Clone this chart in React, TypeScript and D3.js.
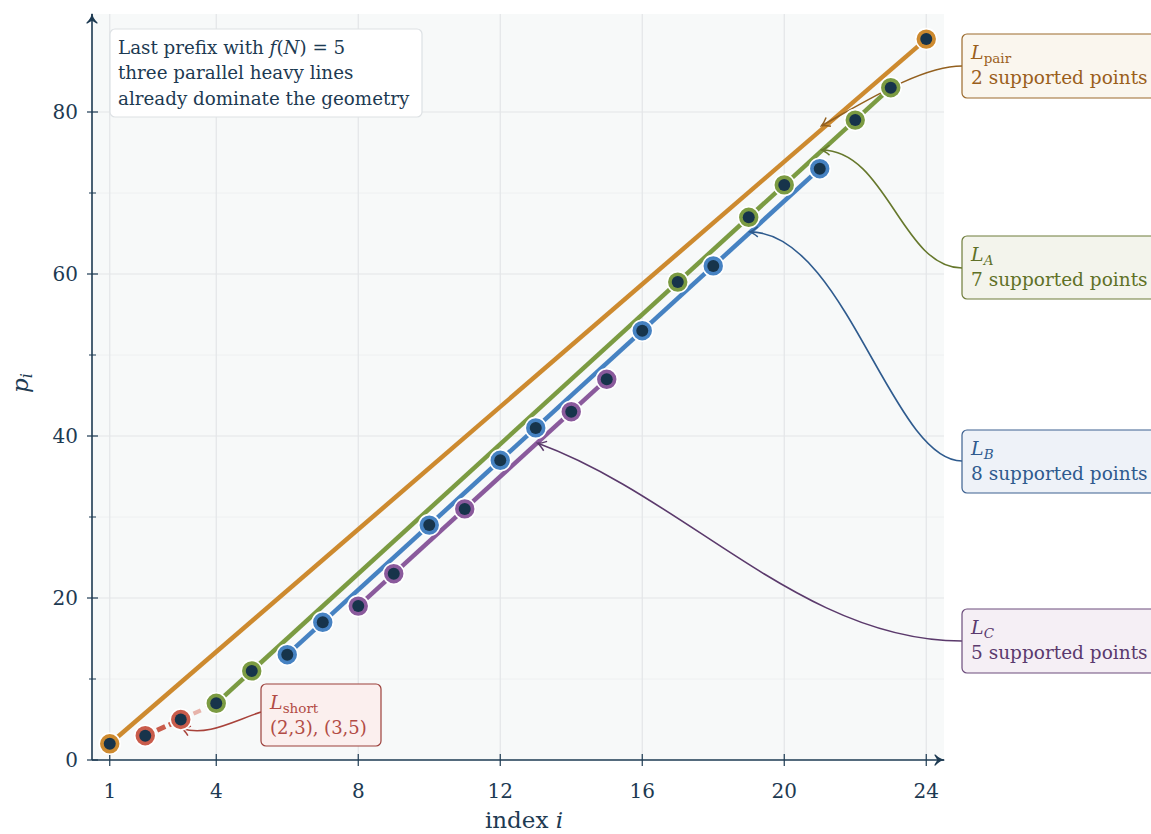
import * as d3 from "d3";

// p_i values, grouped by the line they sit on
const pairIdx = [1, 24];
const pairVal = [2, 89];
const aIdx = [4, 5, 17, 19, 20, 22, 23];
const aVal = [7, 11, 59, 67, 71, 79, 83];
const bIdx = [6, 7, 10, 12, 13, 16, 18, 21];
const bVal = [13, 17, 29, 37, 41, 53, 61, 73];
const cIdx = [8, 9, 11, 14, 15];
const cVal = [19, 23, 31, 43, 47];
const shortIdx = [2, 3];
const shortVal = [3, 5];

const xTicks = [1, 4, 8, 12, 16, 20, 24];
const yTicks = [0, 20, 40, 60, 80];
const yMinor = [10, 30, 50, 70];

// where each callout arrow lands (data coords)
const annI = [21.05, 21.05, 19.03, 13.06, 3.03];
const annP = [78.3, 75.3, 65.2, 39.1, 3.9];

const W = 1151;
const H = 834;
const FONT = "'DejaVu Serif', 'Liberation Serif', serif";
const INK = "#1d3a52";

const x = d3.scaleLinear().domain([0.5, 24.5]).range([92, 944]);
const y = d3.scaleLinear().domain([0, 92]).range([760, 14.8]);

const C = {
  pair: "#cd8a2f",
  a: "#7b9b42",
  b: "#4682c2",
  c: "#8a5a9c",
  short: "#c95c4b",
  dot: "#17344b",
};

function pts(idx: number[], val: number[]) {
  return idx.map((d, i) => [d, val[i]] as [number, number]);
}

const line = d3
  .line<[number, number]>()
  .x((d) => x(d[0]))
  .y((d) => y(d[1]));

function ends(idx: number[], val: number[]): [number, number][] {
  return [
    [idx[0], val[0]],
    [idx[idx.length - 1], val[val.length - 1]],
  ];
}

function curve(bx: number, by: number, tx: number, ty: number, c1: number, c2x: number, c2y: number, c1y = 0) {
  const p = d3.path();
  p.moveTo(bx, by);
  p.bezierCurveTo(bx - c1, by + c1y, tx + c2x, ty + c2y, tx, ty);
  return p.toString();
}

function Box(props: {
  x: number;
  y: number;
  w: number;
  h: number;
  fill: string;
  stroke: string;
  color: string;
  sub: string;
  subItalic: boolean;
  line2: string;
  size?: number;
}) {
  const { x: bx, y: by, w, h, fill, stroke, color, sub, subItalic, line2, size = 18.5 } = props;
  return (
    <g>
      <rect x={bx} y={by} width={w} height={h} rx={5} fill={fill} stroke={stroke} strokeWidth={1.2} />
      <text x={bx + 9} y={by + 25} fill={color} fontSize={19} fontFamily={FONT}>
        <tspan fontStyle="italic">L</tspan>
        <tspan fontSize={13.5} dy={4} fontStyle={subItalic ? "italic" : "normal"}>
          {sub}
        </tspan>
      </text>
      <text x={bx + 9} y={by + 50} fill={color} fontSize={size} fontFamily={FONT}>
        {line2}
      </text>
    </g>
  );
}

function Dots({ idx, val, color }: { idx: number[]; val: number[]; color: string }) {
  return (
    <g>
      {pts(idx, val).map((d, i) => (
        <g key={i}>
          <circle cx={x(d[0])} cy={y(d[1])} r={10.5} fill={color} stroke="#ffffff" strokeWidth={1.6} />
          <circle cx={x(d[0])} cy={y(d[1])} r={6} fill={C.dot} />
        </g>
      ))}
    </g>
  );
}

export default function App() {
  const x0 = x.range()[0];
  const x1 = x.range()[1];
  const yb = y(0);
  const yt = 14;

  const arrows = [
    { c: "#93601f", d: curve(962, 66, x(annI[0]), y(annP[0]), 40, 45, -25) },
    { c: "#66782c", d: curve(962, 268, x(annI[1]), y(annP[1]), 60, 65, 0) },
    { c: "#2f5b8e", d: curve(962, 461, x(annI[2]), y(annP[2]), 70, 95, 0) },
    { c: "#5b3a6c", d: curve(962, 641, x(annI[3]), y(annP[3]), 160, 150, 55) },
    { c: "#a8423a", d: curve(261, 712, x(annI[4]), y(annP[4]), 30, 25, 8, 10) },
  ];

  return (
    <div style={{ position: "absolute", left: 0, top: 0 }}>
      <svg width={W} height={H} style={{ display: "block" }}>
        <defs>
          {arrows.map((a, i) => (
            <marker
              key={i}
              id={`ah${i}`}
              viewBox="-10 -6 12 12"
              markerWidth={12}
              markerHeight={12}
              refX={0}
              refY={0}
              orient="auto"
              markerUnits="userSpaceOnUse"
            >
              <path d="M -8 -5 Q -3 -1 0 0 Q -3 1 -8 5" fill="none" stroke={a.c} strokeWidth={1.5} />
            </marker>
          ))}
          <marker id="axis" viewBox="-10 -6 12 12" markerWidth={12} markerHeight={12} refX={0} refY={0} orient="auto" markerUnits="userSpaceOnUse">
            <path d="M -9 -5 Q -4 0 0 0 Q -4 0 -9 5 L -6 0 Z" fill={INK} stroke={INK} strokeWidth={1.2} strokeLinejoin="round" />
          </marker>
        </defs>

        {/* plot background + grid */}
        <rect x={x0} y={yt} width={x1 - x0} height={yb - yt} fill="#f7f9f9" />
        {yMinor.map((t) => (
          <line key={`m${t}`} x1={x0} x2={x1} y1={y(t)} y2={y(t)} stroke="#eef0f1" strokeWidth={1} />
        ))}
        {yTicks.slice(1).map((t) => (
          <line key={`g${t}`} x1={x0} x2={x1} y1={y(t)} y2={y(t)} stroke="#e3e6e8" strokeWidth={1.2} />
        ))}
        {xTicks.map((t) => (
          <line key={`v${t}`} x1={x(t)} x2={x(t)} y1={yt} y2={yb} stroke="#e3e6e8" strokeWidth={1.2} />
        ))}

        {/* axes */}
        <line x1={x0} x2={x0} y1={yb} y2={yt} stroke={INK} strokeWidth={1.6} markerEnd="url(#axis)" />
        <line x1={x0} x2={x1} y1={yb} y2={yb} stroke={INK} strokeWidth={1.6} markerEnd="url(#axis)" />
        {xTicks.map((t) => (
          <g key={`xt${t}`}>
            <line x1={x(t)} x2={x(t)} y1={yb - 6} y2={yb + 6} stroke={INK} strokeWidth={1.2} />
            <text x={x(t)} y={yb + 38} textAnchor="middle" fontSize={20} fill={INK} fontFamily={FONT}>
              {t}
            </text>
          </g>
        ))}
        {yTicks.map((t) => (
          <g key={`yt${t}`}>
            <line x1={x0 - 5} x2={x0 + 6} y1={y(t)} y2={y(t)} stroke={INK} strokeWidth={1.2} />
            <text x={x0 - 14} y={y(t) + 7} textAnchor="end" fontSize={20} fill={INK} fontFamily={FONT}>
              {t}
            </text>
          </g>
        ))}
        {yMinor.map((t) => (
          <line key={`ym${t}`} x1={x0 - 3} x2={x0 + 4} y1={y(t)} y2={y(t)} stroke={INK} strokeWidth={1} />
        ))}
        <text x={524} y={828} textAnchor="middle" fontSize={23} fill={INK} fontFamily={FONT}>
          index <tspan fontStyle="italic">i</tspan>
        </text>
        <text transform="translate(28,383) rotate(-90)" textAnchor="middle" fontSize={23} fill={INK} fontFamily={FONT} fontStyle="italic">
          p<tspan fontSize={16} dy={4}>i</tspan>
        </text>

        {/* heavy lines */}
        <path d={line(ends(pairIdx, pairVal)) ?? ""} stroke={C.pair} strokeWidth={4.5} fill="none" />
        <path d={line(ends(aIdx, aVal)) ?? ""} stroke={C.a} strokeWidth={4.5} fill="none" />
        <path d={line(ends(bIdx, bVal)) ?? ""} stroke={C.b} strokeWidth={4.5} fill="none" />
        <path d={line(ends(cIdx, cVal)) ?? ""} stroke={C.c} strokeWidth={4.5} fill="none" />
        <path
          d={line([[shortIdx[1], shortVal[1]], [aIdx[0], aVal[0]]]) ?? ""}
          stroke="#e7b3aa"
          strokeWidth={4}
          strokeDasharray="8 6"
          fill="none"
        />
        <path d={line(pts(shortIdx, shortVal)) ?? ""} stroke={C.short} strokeWidth={5} strokeDasharray="9 4" fill="none" />

        {/* callout arrows */}
        {arrows.map((a, i) => (
          <path key={i} d={a.d} fill="none" stroke={a.c} strokeWidth={1.6} markerEnd={`url(#ah${i})`} />
        ))}

        {/* points */}
        <Dots idx={pairIdx} val={pairVal} color={C.pair} />
        <Dots idx={aIdx} val={aVal} color={C.a} />
        <Dots idx={bIdx} val={bVal} color={C.b} />
        <Dots idx={cIdx} val={cVal} color={C.c} />
        <Dots idx={shortIdx} val={shortVal} color={C.short} />

        {/* note box */}
        <rect x={110} y={29} width={312} height={88} rx={5} fill="#ffffff" stroke="#dde1e4" strokeWidth={1.2} />
        <text fontSize={18.3} fill={INK} fontFamily={FONT}>
          <tspan x={118} y={54}>
            Last prefix with <tspan fontStyle="italic">f</tspan>(<tspan fontStyle="italic">N</tspan>) = 5
          </tspan>
          <tspan x={118} y={79}>three parallel heavy lines</tspan>
          <tspan x={118} y={105}>already dominate the geometry</tspan>
        </text>

        {/* callout boxes */}
        <Box x={962} y={34} w={210} h={64} fill="#faf6ee" stroke="#9b6a2c" color="#9a5f1c" sub="pair" subItalic={false} line2="2 supported points" />
        <Box x={962} y={236} w={210} h={63} fill="#f3f4ec" stroke="#6e7c3a" color="#5f7127" sub="A" subItalic={true} line2="7 supported points" />
        <Box x={962} y={430} w={210} h={63} fill="#eef2f8" stroke="#3d6190" color="#2f5a8e" sub="B" subItalic={true} line2="8 supported points" />
        <Box x={962} y={609} w={210} h={64} fill="#f5eff5" stroke="#6c4c7c" color="#5b3a6e" sub="C" subItalic={true} line2="5 supported points" />
        <Box x={261} y={684} w={120} h={62} fill="#fbefee" stroke="#9c403b" color="#b24b45" sub="short" subItalic={false} line2="(2,3), (3,5)" size={18} />
      </svg>
    </div>
  );
}
